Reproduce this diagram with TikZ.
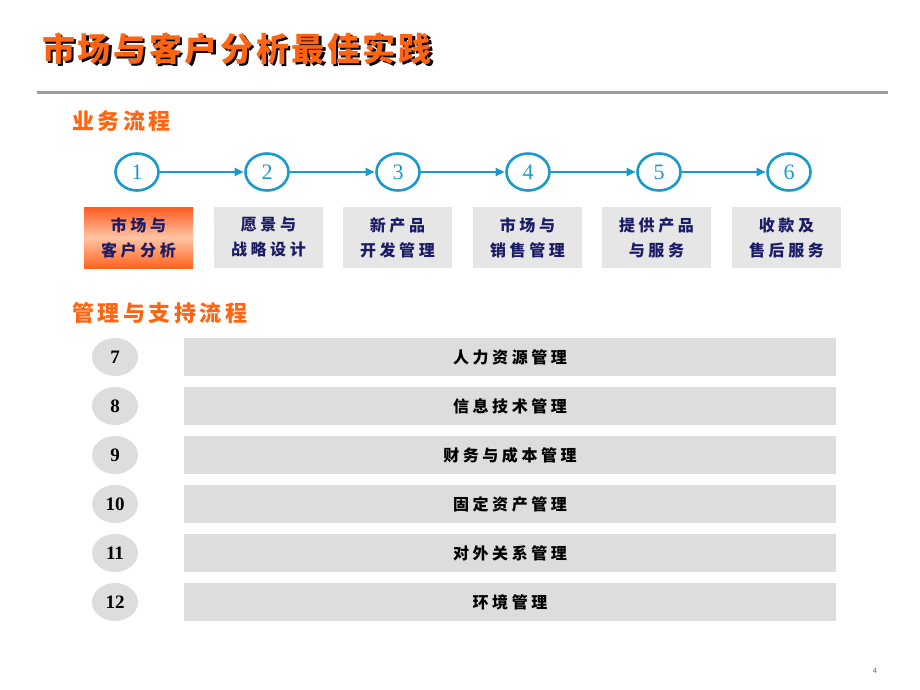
\documentclass[tikz,border=0pt]{standalone}
\usepackage{fontspec}
\setmainfont{Liberation Serif}
\newfontfamily\cjk{Noto Sans CJK SC}
\newfontfamily\cjkspaced[LetterSpace=22]{Noto Sans CJK SC}
\newfontfamily\cjkhead[LetterSpace=16]{Noto Sans CJK SC}
\newfontfamily\cjktitle[LetterSpace=8]{Noto Sans CJK SC}
\usetikzlibrary{shapes.geometric,arrows.meta}
\definecolor{cblue}{HTML}{1A9ACB}
\definecolor{torange}{HTML}{FF6410}
\definecolor{navy}{HTML}{1C1C66}
\definecolor{boxgray}{HTML}{E6E6E6}
\definecolor{rowgray}{HTML}{DDDDDD}
\newcommand{\shadowtext}[1]{\rlap{\hspace{2.5pt}\raisebox{-2.5pt}{\color{black}#1}}{\color{torange}#1}}
\tikzset{
  circ/.style={ellipse, draw=cblue, line width=2.6pt, minimum width=43pt, minimum height=37pt, inner sep=0pt, text=cblue, font=\fontsize{22}{22}\selectfont},
  flow/.style={draw=cblue, line width=2pt, -{Triangle[length=9pt,width=8pt]}, shorten >=0.5pt},
  pbox/.style={rectangle, fill=boxgray, minimum width=109pt, minimum height=61pt, inner sep=0pt, align=center, text=navy, font=\cjkspaced\bfseries\fontsize{16}{25}\selectfont},
  numell/.style={ellipse, fill=rowgray, minimum width=46pt, minimum height=38pt, inner sep=0pt, font=\bfseries\fontsize{19}{19}\selectfont},
  rowbar/.style={rectangle, fill=rowgray, minimum width=652pt, minimum height=38pt, inner sep=0pt, font=\cjkspaced\bfseries\fontsize{16}{16}\selectfont},
  heading/.style={anchor=west, text=torange, inner sep=0pt, font=\cjkhead\bfseries\fontsize{22}{22}\selectfont},
}
\begin{document}
\begin{tikzpicture}[x=1pt,y=-1pt]
\useasboundingbox (0,0) rectangle (920,690);
% title with shadow
\node[anchor=west, inner sep=0pt, font=\cjktitle\bfseries\fontsize{33}{33}\selectfont] (title) at (42,50) {\shadowtext{市场与客户分析最佳实践}};
% rule
\coordinate (ruleL) at (37,93);
\coordinate (ruleR) at (888,93);
\draw[line width=3pt, color=black!38] (ruleL) -- (ruleR);
% headings
\node[heading] (h1) at (72,121) {业务流程};
\node[heading] (h2) at (72,313) {管理与支持流程};
% circles
\node[circ] (c1) at (137,172) {1};
\node[circ] (c2) at (267,172) {2};
\node[circ] (c3) at (398,172) {3};
\node[circ] (c4) at (528,172) {4};
\node[circ] (c5) at (659,172) {5};
\node[circ] (c6) at (789,172) {6};
\draw[flow] (c1) -- (c2);
\draw[flow] (c2) -- (c3);
\draw[flow] (c3) -- (c4);
\draw[flow] (c4) -- (c5);
\draw[flow] (c5) -- (c6);
% process boxes
\node[pbox, fill=none, top color={rgb,255:red,255;green,90;blue,30}, bottom color={rgb,255:red,255;green,100;blue,30}, middle color={rgb,255:red,255;green,196;blue,164}] (b1) at (138.5,237.5) {市场与\\客户分析};
\node[pbox] (b2) at (268.5,237.5) {愿景与\\战略设计};
\node[pbox] (b3) at (397.5,237.5) {新产品\\开发管理};
\node[pbox] (b4) at (527.5,237.5) {市场与\\销售管理};
\node[pbox] (b5) at (656.5,237.5) {提供产品\\与服务};
\node[pbox] (b6) at (786.5,237.5) {收款及\\售后服务};
% support rows
\node[numell] (n7) at (115,357) {7};
\node[numell] (n8) at (115,406) {8};
\node[numell] (n9) at (115,455) {9};
\node[numell] (n10) at (115,504) {10};
\node[numell] (n11) at (115,553) {11};
\node[numell] (n12) at (115,602) {12};
\node[rowbar] (r7) at (510,357) {人力资源管理};
\node[rowbar] (r8) at (510,406) {信息技术管理};
\node[rowbar] (r9) at (510,455) {财务与成本管理};
\node[rowbar] (r10) at (510,504) {固定资产管理};
\node[rowbar] (r11) at (510,553) {对外关系管理};
\node[rowbar] (r12) at (510,602) {环境管理};
% page number
\node[text=black!60, font=\sffamily\fontsize{8}{8}\selectfont, inner sep=0pt] (pg) at (875,671) {4};
\end{tikzpicture}
\end{document}
